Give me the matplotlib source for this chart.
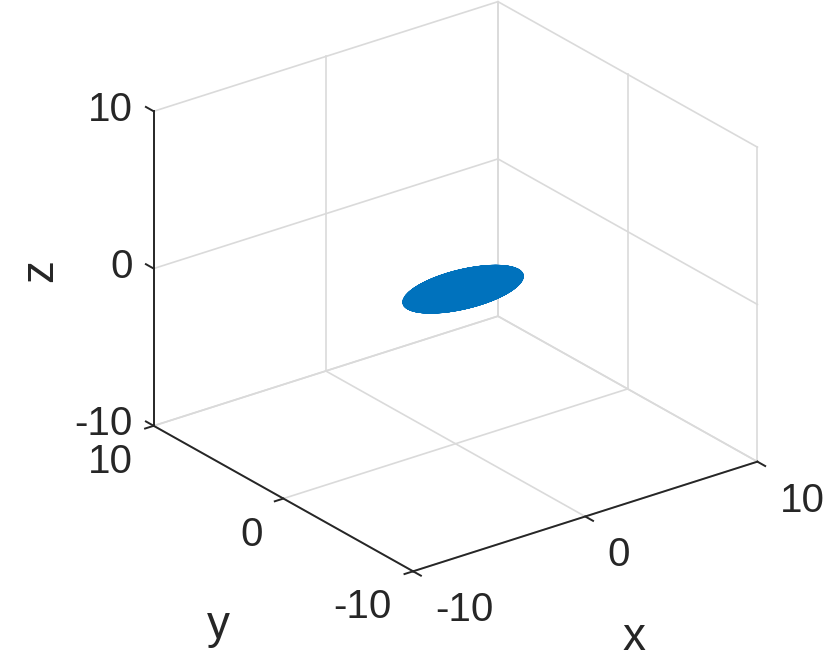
import numpy as np
import matplotlib
matplotlib.use('Agg')
from matplotlib import pyplot as plt
from mpl_toolkits.mplot3d import proj3d

# axes data
lim = (-10, 10)
ticks = [-10, 0, 10]
tick_labels = ['-10', '0', '10']

# ellipsoid (centre and semi-axes)
centre = (0.1, -0.45, 0.0)
radii = (3.3, 1.6, 0.7)

blue = '#0072BD'
grid_c = '#dadada'
axis_c = '#262626'

plt.rcParams['font.family'] = ['Liberation Sans', 'DejaVu Sans']

fig = plt.figure(figsize=(8.3, 6.64), dpi=100)
ax = fig.add_axes([0.1275, 0.0419, 0.8205, 1.0256], projection='3d',
                  proj_type='ortho', computed_zorder=False)
ax.set_xlim(lim)
ax.set_ylim(lim)
ax.set_zlim(lim)
ax.view_init(elev=25, azim=-127)
ax.set_box_aspect((1, 1, 0.805))
ax.set_axis_off()

lo, hi = lim

# grid lines on the three back planes
for t in ticks:
    # plane y = hi
    ax.plot([lo, hi], [hi, hi], [t, t], color=grid_c, lw=1.2, zorder=1)
    ax.plot([t, t], [hi, hi], [lo, hi], color=grid_c, lw=1.2, zorder=1)
    # plane x = hi
    ax.plot([hi, hi], [lo, hi], [t, t], color=grid_c, lw=1.2, zorder=1)
    ax.plot([hi, hi], [t, t], [lo, hi], color=grid_c, lw=1.2, zorder=1)
    # floor z = lo
    ax.plot([t, t], [lo, hi], [lo, lo], color=grid_c, lw=1.2, zorder=1)
    ax.plot([lo, hi], [t, t], [lo, lo], color=grid_c, lw=1.2, zorder=1)

# ellipsoid surface
u = np.linspace(0, 2 * np.pi, 90)
v = np.linspace(0, np.pi, 45)
X = centre[0] + radii[0] * np.outer(np.cos(u), np.sin(v))
Y = centre[1] + radii[1] * np.outer(np.sin(u), np.sin(v))
Z = centre[2] + radii[2] * np.outer(np.ones_like(u), np.cos(v))
ax.plot_surface(X, Y, Z, color=blue, edgecolor=blue, linewidth=0.3,
                shade=False, rcount=45, ccount=90, zorder=2)

# axis lines
ax.plot([lo, lo], [hi, hi], [lo, hi], color=axis_c, lw=1.4, zorder=3)
ax.plot([lo, lo], [lo, hi], [lo, lo], color=axis_c, lw=1.4, zorder=3)
ax.plot([lo, hi], [lo, lo], [lo, lo], color=axis_c, lw=1.4, zorder=3)

# tick marks
for t in ticks:
    ax.plot([lo, lo], [hi, hi + 0.6], [t, t], color=axis_c, lw=1.4, zorder=3)
    ax.plot([lo, lo - 0.5], [t, t], [lo, lo], color=axis_c, lw=1.4, zorder=3)
    ax.plot([t, t], [lo, lo - 0.6], [lo, lo], color=axis_c, lw=1.4, zorder=3)

M = ax.get_proj()


def put(x, y, z, s, dx, dy, **kw):
    px, py, _ = proj3d.proj_transform(x, y, z, M)
    ax.annotate(s, (px, py), xytext=(dx, dy), textcoords='offset pixels',
                color=axis_c, annotation_clip=False, **kw)


for t, lab in zip(ticks, tick_labels):
    put(lo, hi, t, lab, -21, -9.5, ha='right', va='baseline', fontsize=29)
    put(lo, t, lo, lab, -21, -17, ha='right', va='top', fontsize=29)
    put(t, lo, lo, lab, 22, -20, ha='left', va='top', fontsize=29)

put(0, lo, lo, 'x', 49, -122, ha='center', va='center', fontsize=33)
put(lo, 0, lo, 'y', -65, -127, ha='center', va='center', fontsize=33)
put(lo, hi, 0, 'z', -114, -2, ha='center', va='center', fontsize=33,
    rotation=90)

fig.savefig('out.png', dpi=100)
